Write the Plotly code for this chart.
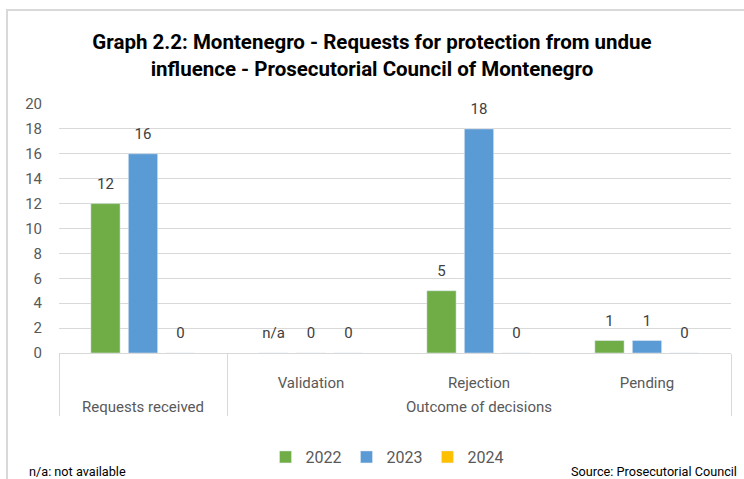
import plotly.graph_objects as go

groups = ["Requests received", "Outcome of decisions", "Outcome of decisions", "Outcome of decisions"]
categories = ["", "Validation", "Rejection", "Pending"]
years = ["2022", "2023", "2024"]
values_2022 = [12, None, 5, 1]
values_2023 = [16, 0, 18, 1]
values_2024 = [0, 0, 0, 0]
colors = ["#70AD47", "#5B9BD5", "#FFC000"]

series = [values_2022, values_2023, values_2024]
group_labels = ["<br>" + g for g in groups]

fig = go.Figure()
for name, vals, col in zip(years, series, colors):
    fig.add_trace(go.Bar(
        name=name,
        x=[group_labels, categories],
        y=[v if v is not None else 0 for v in vals],
        marker=dict(color=col),
        hoverinfo="skip",
    ))
# value labels (placed above bars, aligned through scattermode="group")
for name, vals in zip(years, series):
    fig.add_trace(go.Scatter(
        x=[group_labels, categories],
        y=[v if v is not None else 0 for v in vals],
        mode="markers+text",
        marker=dict(size=16, color="rgba(0,0,0,0)"),
        text=[str(v) if v is not None else "n/a" for v in vals],
        textposition="top center",
        textfont=dict(family="Roboto", size=15, color="#404040"),
        showlegend=False, hoverinfo="skip", cliponaxis=False,
    ))

fig.update_layout(
    width=744, height=479,
    margin=dict(l=59, r=13, t=104, b=126),
    paper_bgcolor="white", plot_bgcolor="white",
    barmode="group", bargap=0.33, bargroupgap=0.22,
    scattermode="group", scattergap=0.33,
    title=dict(
        text="<b>Graph 2.2: Montenegro - Requests for protection from undue<br>influence - Prosecutorial Council of Montenegro</b>",
        x=0.5, xanchor="center", xref="container",
        y=1 - 49 / 479, yanchor="top", yref="container",
        font=dict(family="Roboto", size=20.5, color="black"),
    ),
    font=dict(family="Roboto", size=15, color="#595959"),
    showlegend=True,
    legend=dict(
        orientation="h", x=387 / 744, xanchor="center", xref="container",
        y=1 - 457 / 479, yanchor="middle", yref="container",
        font=dict(family="Roboto", size=16, color="#595959"),
        traceorder="normal",
    ),
    xaxis=dict(
        type="multicategory", automargin=False,
        showline=True, linecolor="#D9D9D9", linewidth=1,
        showdividers=True, dividercolor="#D9D9D9", dividerwidth=1,
        tickfont=dict(family="Roboto", size=15, color="#595959"),
        ticklabelstandoff=16,
        showgrid=False,
    ),
    yaxis=dict(
        range=[0, 20], dtick=2, showgrid=True, gridcolor="#D9D9D9", gridwidth=1,
        zeroline=False, showline=False, automargin=False,
        tickfont=dict(family="Roboto", size=15, color="#595959"),
        ticklabelstandoff=16,
    ),
)

fig.add_annotation(text="n/a: not available", xref="paper", yref="paper",
                   x=-32 / 672, y=-118 / 249, xanchor="left", yanchor="middle",
                   showarrow=False, font=dict(family="Roboto", size=12.7, color="black"))
fig.add_annotation(text="Source: Prosecutorial Council", xref="paper", yref="paper",
                   x=1 + 8 / 672, y=-118 / 249, xanchor="right", yanchor="middle",
                   showarrow=False, font=dict(family="Roboto", size=12.7, color="black"))

# chart border (top and left edges visible in the frame)
fig.add_shape(type="rect", xref="paper", yref="paper",
              x0=-52 / 672, x1=1 + 40 / 672, y0=-150 / 249, y1=1 + 94 / 249,
              line=dict(color="#D9D9D9", width=2), fillcolor="rgba(0,0,0,0)", layer="below")

fig.write_html("out.html", config={"displayModeBar": False},
               post_script="document.body.style.margin='0';")
